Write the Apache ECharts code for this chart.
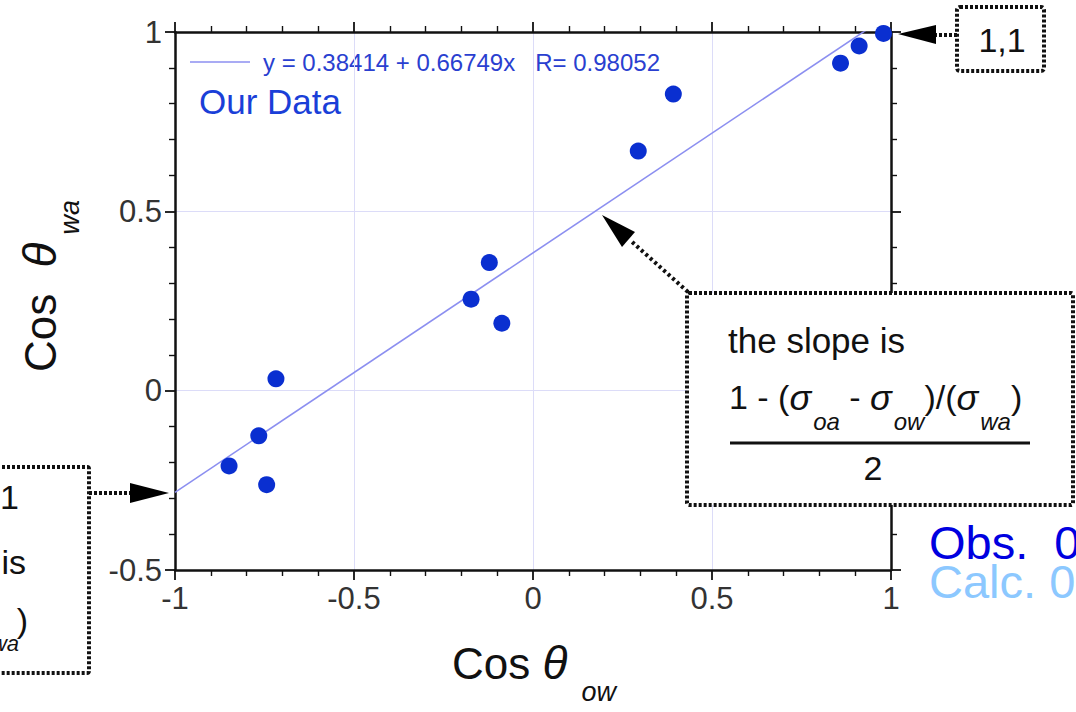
<!DOCTYPE html>
<html><head><meta charset="utf-8">
<script src="https://cdn.jsdelivr.net/npm/echarts@6/dist/echarts.min.js"></script>
<style>html,body{margin:0;padding:0;background:#fff}#c{width:1076px;height:712px}</style>
</head><body><div id="c"></div>
<script>
// Data
const cosOW = [-0.849, -0.766, -0.744, -0.718, -0.173, -0.122, -0.087, 0.294, 0.392, 0.859, 0.911, 0.979];
const cosWA = [-0.210, -0.126, -0.262, 0.033, 0.255, 0.357, 0.188, 0.668, 0.827, 0.913, 0.961, 0.996];
const fitIntercept = 0.38414;
const fitSlope = 0.66749;
const fitR = 0.98052;
const fitX = [-1, 1];
const xRange = [-1, 1];
const yRange = [-0.5, 1];
const tickStep = [0.5];

const FONT = "'Liberation Sans', Arial, Helvetica, sans-serif";
const BLUE = '#0a2fd0';
const LINE = '#8c8ff0';
const INK = '#111';

const points = cosOW.map((x, i) => [x, cosWA[i]]);
const fitLine = fitX.map(x => [x, fitIntercept + fitSlope * x]);

// text measuring for inline subscripts
const mctx = document.createElement('canvas').getContext('2d');
function fontStr(p) { return (p.italic ? 'italic ' : '') + p.size + 'px ' + FONT; }
function flow(pieces, x0, y0, z) {
  let x = x0;
  const out = [];
  pieces.forEach(p => {
    x += p.gap || 0;
    out.push({ type: 'text', z: z || 10, x: x, y: y0 + (p.dy || 0), style: {
      text: p.t, fontSize: p.size, fontStyle: p.italic ? 'italic' : 'normal', fontFamily: FONT,
      fill: p.fill || INK, verticalAlign: 'middle' } });
    mctx.font = fontStr(p);
    x += mctx.measureText(p.t).width;
  });
  return out;
}

function axisBase(showLabel) {
  return {
    type: 'value',
    interval: tickStep[0],
    axisLine: { show: true, onZero: false, lineStyle: { color: INK, width: 2.5 } },
    axisTick: { show: true, inside: false, length: 10, lineStyle: { color: INK, width: 1.8 } },
    minorTick: { show: true, splitNumber: 5, length: 6, lineStyle: { color: INK, width: 1.4 } },
    axisLabel: { show: showLabel, fontSize: 31, color: '#333', fontFamily: FONT, margin: 13 },
    splitLine: { show: showLabel, lineStyle: { color: '#dcdcf8', width: 1 } },
    minorSplitLine: { show: false }
  };
}

const dash = { stroke: INK, lineWidth: 4, lineDash: [3, 2] };

const xTitle = flow([
  { t: 'Cos ', size: 44 }, { t: 'θ', size: 46, italic: true },
  { t: 'ow', size: 27, italic: true, dy: 29, gap: 14 }
], 452, 663);

const yTitle = { type: 'group', x: 40, y: 372, rotation: Math.PI / 2, children: flow([
  { t: 'Cos ', size: 44 }, { t: 'θ', size: 46, italic: true, gap: 14 },
  { t: 'wa', size: 27, italic: true, dy: 30, gap: 8 }
], 0, 0) };

const formula = flow([
  { t: '1 - (', size: 34 }, { t: 'σ', size: 36, italic: true },
  { t: 'oa', size: 24, italic: true, dy: 24, gap: 2 },
  { t: ' - ', size: 34 }, { t: 'σ', size: 36, italic: true },
  { t: 'ow', size: 24, italic: true, dy: 24, gap: 2 },
  { t: ')/(', size: 34 }, { t: 'σ', size: 36, italic: true },
  { t: 'wa', size: 24, italic: true, dy: 24, gap: 2 },
  { t: ')', size: 34 }
], 729, 397, 101);

const option = {
  animation: false,
  backgroundColor: '#fff',
  grid: { left: 175, top: 32, width: 716, height: 538 },
  xAxis: [
    Object.assign(axisBase(true), { min: xRange[0], max: xRange[1], position: 'bottom' }),
    Object.assign(axisBase(false), { min: xRange[0], max: xRange[1], position: 'top' })
  ],
  yAxis: [
    Object.assign(axisBase(true), { min: yRange[0], max: yRange[1], position: 'left' }),
    Object.assign(axisBase(false), { min: yRange[0], max: yRange[1], position: 'right' })
  ],
  series: [
    {
      type: 'line', data: fitLine, symbol: 'none', clip: true,
      lineStyle: { color: LINE, width: 1.6 }, z: 3
    },
    {
      type: 'scatter', data: points, symbolSize: 17, clip: false,
      itemStyle: { color: BLUE, opacity: 1 }, z: 4
    }
  ],
  graphic: { elements: [
    // legend
    { type: 'line', shape: { x1: 190, y1: 62, x2: 250, y2: 62 }, style: { stroke: LINE, lineWidth: 1.6 } },
    { type: 'text', x: 263, y: 62, style: { text: 'y = ' + fitIntercept + ' + ' + fitSlope + 'x   R= ' + fitR, fontSize: 24, fontFamily: FONT, fill: '#2a3fd0', verticalAlign: 'middle' } },
    { type: 'text', x: 199, y: 101, style: { text: 'Our Data', fontSize: 35, fontFamily: FONT, fill: '#1a3fd8', verticalAlign: 'middle' } },

    // axis titles
    ...xTitle,
    yTitle,

    // "1,1" box and arrow
    { type: 'rect', z: 100, shape: { x: 957, y: 7, width: 87, height: 64, r: 3 }, style: Object.assign({ fill: '#fff' }, dash) },
    { type: 'text', z: 101, x: 1002, y: 40, style: { text: '1,1', fontSize: 34, fontFamily: FONT, fill: INK, align: 'center', verticalAlign: 'middle' } },
    { type: 'line', z: 100, shape: { x1: 957, y1: 35, x2: 932, y2: 35 }, style: dash },
    { type: 'polygon', z: 100, shape: { points: [[898, 34], [936, 25], [936, 44]] }, style: { fill: '#000' } },

    // left box (partly off page) and arrow
    { type: 'rect', z: 100, shape: { x: -20, y: 467, width: 109, height: 206, r: 2 }, style: Object.assign({ fill: '#fff' }, dash) },
    { type: 'text', z: 101, x: 19, y: 497, style: { text: '-1', fontSize: 34, fontFamily: FONT, fill: INK, align: 'right', verticalAlign: 'middle' } },
    { type: 'text', z: 101, x: 26, y: 562, style: { text: 'is', fontSize: 34, fontFamily: FONT, fill: INK, align: 'right', verticalAlign: 'middle' } },
    { type: 'text', z: 101, x: 28, y: 620, style: { text: ')', fontSize: 34, fontFamily: FONT, fill: INK, align: 'right', verticalAlign: 'middle' } },
    { type: 'text', z: 101, x: 19, y: 643, style: { text: 'wa', fontSize: 22, fontStyle: 'italic', fontFamily: FONT, fill: INK, align: 'right', verticalAlign: 'middle' } },
    { type: 'line', z: 100, shape: { x1: 89, y1: 493, x2: 132, y2: 493 }, style: dash },
    { type: 'polygon', z: 100, shape: { points: [[169, 493], [130, 483], [130, 503]] }, style: { fill: '#000' } },

    // slope box and arrow
    { type: 'line', z: 100, shape: { x1: 688, y1: 292, x2: 630, y2: 240 }, style: { stroke: INK, lineWidth: 4, lineDash: [3, 3] } },
    { type: 'polygon', z: 100, shape: { points: [[602, 215], [622, 247], [635, 232]] }, style: { fill: '#000' } },
    { type: 'rect', z: 100, shape: { x: 687, y: 293, width: 386, height: 212, r: 2 }, style: Object.assign({ fill: '#fff' }, dash) },
    { type: 'text', z: 101, x: 728, y: 340, style: { text: 'the slope is', fontSize: 35, fontFamily: FONT, fill: INK, verticalAlign: 'middle' } },
    ...formula,
    { type: 'line', z: 101, shape: { x1: 730, y1: 443, x2: 1030, y2: 443 }, style: { stroke: INK, lineWidth: 3 } },
    { type: 'text', z: 101, x: 873, y: 468, style: { text: '2', fontSize: 34, fontFamily: FONT, fill: INK, align: 'center', verticalAlign: 'middle' } },

    // right-edge text
    { type: 'text', x: 929, y: 542, style: { text: 'Obs.  0', fontSize: 47, fontFamily: FONT, fill: '#0000e0', verticalAlign: 'middle' } },
    { type: 'text', x: 929, y: 581, style: { text: 'Calc. 0', fontSize: 47, fontFamily: FONT, fill: '#8cc8ff', verticalAlign: 'middle' } }
  ] }
};

const chart = echarts.init(document.getElementById('c'), null, { renderer: 'svg' });
chart.setOption(option);
</script>
</body></html>
